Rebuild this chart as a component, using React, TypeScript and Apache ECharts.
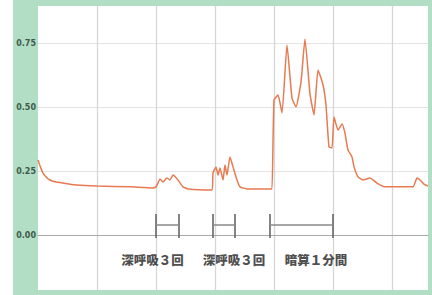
import React, { useEffect, useRef } from "react";
import * as echarts from "echarts";

// x in grid units (one vertical grid line per unit), y in signal value
const xs = [0, 0.034, 0.085, 0.153, 0.203, 0.305, 0.424, 0.661, 1.0, 1.559, 1.949, 2.0, 2.034, 2.068, 2.119, 2.186, 2.237, 2.288, 2.373, 2.458, 2.542, 2.949, 2.966, 3.017, 3.051, 3.085, 3.136, 3.169, 3.203, 3.254, 3.305, 3.373, 3.424, 3.542, 3.932, 3.966, 4.0, 4.068, 4.136, 4.22, 4.305, 4.373, 4.458, 4.525, 4.61, 4.678, 4.746, 4.831, 4.881, 4.932, 4.983, 5.017, 5.085, 5.153, 5.203, 5.254, 5.322, 5.356, 5.424, 5.508, 5.627, 5.746, 5.881, 6.136, 6.356, 6.424, 6.475, 6.542, 6.61];
const ys = [0.293, 0.27, 0.242, 0.223, 0.215, 0.207, 0.203, 0.195, 0.191, 0.188, 0.184, 0.188, 0.203, 0.219, 0.207, 0.223, 0.215, 0.234, 0.215, 0.188, 0.18, 0.176, 0.242, 0.266, 0.234, 0.262, 0.215, 0.273, 0.234, 0.305, 0.266, 0.215, 0.188, 0.18, 0.18, 0.18, 0.527, 0.547, 0.477, 0.742, 0.535, 0.5, 0.598, 0.766, 0.551, 0.469, 0.645, 0.586, 0.508, 0.344, 0.34, 0.461, 0.41, 0.434, 0.398, 0.332, 0.305, 0.266, 0.227, 0.215, 0.223, 0.203, 0.188, 0.188, 0.188, 0.223, 0.215, 0.199, 0.191];

const yTicks = [0, 0.25, 0.5, 0.75];

const bracketStarts = [2.0, 2.966, 3.93];
const bracketEnds = [2.39, 3.34, 5.0];
const bracketTop = 0.082;
const bracketBottom = -0.012;
const bracketMid = 0.039;

const labelTexts = ["深呼吸３回", "深呼吸３回", "暗算１分間"];
const labelX = [1.94, 3.32, 4.71];
const labelY = -0.094;

const GREEN = "#b3dec6";

export default function App() {
  const ref = useRef<HTMLDivElement>(null);
  useEffect(() => {
    if (!ref.current) return;
    const chart = echarts.init(ref.current, undefined, { renderer: "svg" });
    const segs: any[] = [];
    bracketStarts.forEach((x0, i) => {
      const x1 = bracketEnds[i];
      segs.push({ coords: [[x0, bracketTop], [x0, bracketBottom]] });
      segs.push({ coords: [[x1, bracketTop], [x1, bracketBottom]] });
      segs.push({ coords: [[x0, bracketMid], [x1, bracketMid]], lineStyle: { color: "#8a8a8a" } });
    });
    chart.setOption({
      animation: false,
      backgroundColor: GREEN,
      grid: {
        left: 38,
        right: 4,
        top: 4.6,
        bottom: 0,
        show: true,
        backgroundColor: "#ffffff",
        borderWidth: 0,
      },
      xAxis: {
        type: "value",
        min: 0,
        max: 6.61,
        interval: 1,
        axisLabel: { show: false },
        axisTick: { show: false },
        axisLine: { show: true, onZero: true, lineStyle: { color: "#a9a9a9", width: 1.2 } },
        splitLine: {
          show: true,
          showMinLine: false,
          showMaxLine: false,
          lineStyle: { color: "#d6d6d6", width: 1.3 },
        },
      },
      yAxis: {
        type: "value",
        min: -0.25,
        max: 0.9,
        interval: 0.25,
        axisLine: { show: false },
        axisTick: { show: false },
        axisLabel: {
          margin: 2,
          fontSize: 8,
          fontWeight: "bold",
          color: "#3f5a4a",
          fontFamily: "DejaVu Sans",
          formatter: (v: number) => {
            const hit = yTicks.find((t) => Math.abs(t - v) < 1e-6);
            return hit === undefined ? "" : hit.toFixed(2);
          },
        },
        splitLine: { show: true, lineStyle: { color: "#e4e4e4", width: 1 } },
      },
      series: [
        {
          type: "line",
          data: xs.map((x, i) => [x, ys[i]]),
          showSymbol: false,
          symbol: "none",
          smooth: 0.15,
          lineStyle: { color: "#e87a52", width: 1.5 },
          z: 5,
        },
        {
          type: "lines",
          coordinateSystem: "cartesian2d",
          data: segs,
          lineStyle: { color: "#666666", width: 1.6, opacity: 1 },
          z: 4,
        },
        {
          type: "scatter",
          data: labelTexts.map((t, i) => ({ value: [labelX[i], labelY], name: t })),
          symbolSize: 2,
          itemStyle: { color: "rgba(0,0,0,0)" },
          label: {
            show: true,
            position: "inside",
            formatter: (p: any) => p.name,
            fontSize: 12.5,
            fontWeight: 900,
            color: "#1e1e1e",
            fontFamily: "Noto Sans CJK JP",
          },
          z: 6,
        },
      ],
      graphic: [
        { type: "rect", shape: { x: 0, y: 0, width: 13, height: 295 }, style: { fill: "#ffffff" }, z: 100 },
        { type: "rect", shape: { x: 13, y: 0, width: 419, height: 6 }, style: { fill: GREEN }, z: 100 },
        { type: "rect", shape: { x: 13, y: 290, width: 419, height: 10 }, style: { fill: GREEN }, z: 100 },
      ],
    });
    return () => chart.dispose();
  }, []);
  return (
    <div style={{ position: "absolute", left: 0, top: 0, width: 432, height: 295, overflow: "hidden" }}>
      <div ref={ref} style={{ width: 432, height: 299 }} />
    </div>
  );
}
